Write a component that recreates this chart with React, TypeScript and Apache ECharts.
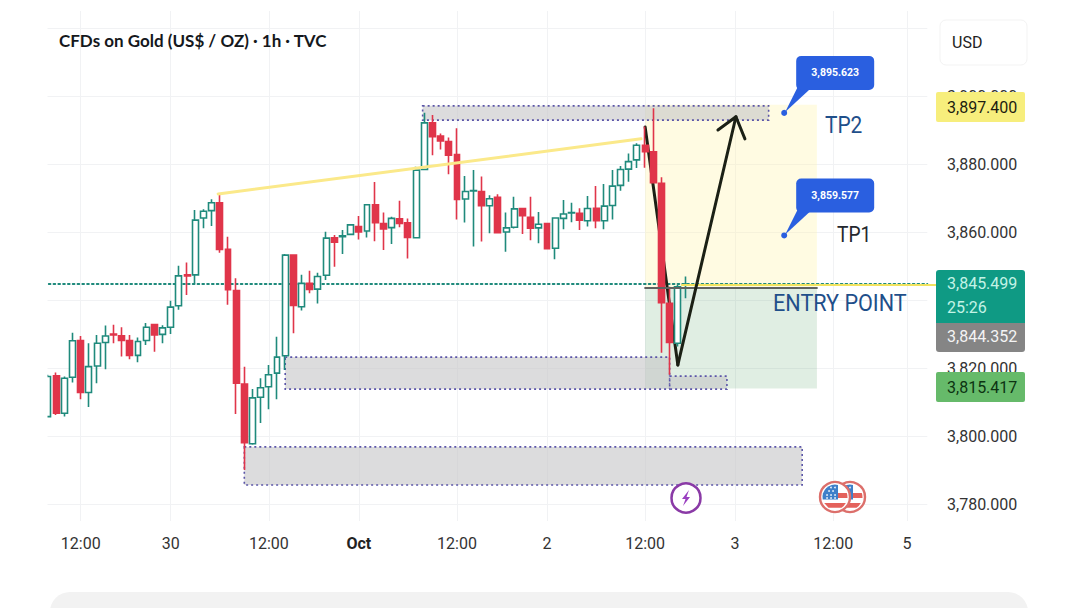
import React, { useEffect, useRef } from "react";
import * as echarts from "echarts";

const opens = [3805.7,3817.7,3806.7,3817.3,3828.1,3812.8,3820.6,3827.5,3830,3829.5,3828.1,3823.7,3828.1,3832.8,3829.9,3832,3838.3,3847.4,3847.4,3864.1,3866.3,3868.6,3854.9,3842.8,3815.3,3797.7,3811.4,3814.5,3818.5,3823.6,3853.2,3838,3844.9,3843.2,3847.3,3858.3,3858.6,3859.3,3861.6,3860.3,3868,3862.5,3861.3,3863.9,3862.7,3858.3,3878.4,3892.1,3888.2,3886.6,3882.8,3869.7,3872.1,3871.9,3867.7,3870.2,3860,3861.4,3866.9,3864.3,3861.2,3862.5,3855.2,3864,3865.6,3865.5,3863.3,3867,3863.3,3867.8,3873.7,3878.5,3881.2,3885.5,3883.6,3874.3,3839,3827.3,3844.5];
const closes = [3817.5,3806.7,3817,3828,3812.8,3820.4,3827.3,3829.4,3829.7,3828.1,3823.7,3827.8,3832,3829.7,3831.8,3837.9,3847.1,3847.1,3863.5,3866.1,3868.6,3854.9,3843,3815.5,3798,3811.2,3814.2,3818,3823.2,3853.2,3838.4,3844.9,3843.1,3846.9,3858.2,3857,3858.9,3862.1,3860,3868,3862.7,3860.9,3864,3862.5,3858.4,3878.2,3892.1,3888,3886.8,3882.6,3869.6,3871.9,3872.2,3867.7,3869.8,3859.8,3861.2,3866.8,3864.8,3861.1,3862.3,3855.1,3864.1,3865.3,3865.7,3863.5,3866.9,3863.3,3867.6,3873.5,3878.4,3880.7,3885.5,3883.6,3874.5,3839.2,3827.5,3843.9,3844.6];
const lows = [3805.5,3806.2,3805.7,3815.7,3810.8,3808.5,3815.5,3819.6,3827.3,3823.4,3822.6,3821.7,3826.8,3824.8,3827.3,3830,3837.1,3841.5,3844.6,3861.1,3861.8,3853.9,3838.6,3806.5,3790,3797.4,3803.8,3807.9,3810.8,3819.4,3830.2,3836.9,3842,3839,3845.9,3849.8,3853.5,3859.3,3857.8,3858.4,3857.3,3854.7,3856.5,3861.4,3852.2,3858.3,3878.4,3882.6,3884.3,3877,3863.7,3862.8,3855.7,3857.2,3859.6,3859.8,3854.2,3861,3859.4,3857.6,3856.7,3855.1,3852,3860.8,3862.9,3860.6,3861.6,3861.1,3860.8,3863.7,3872.1,3874.8,3878.8,3878.9,3874.3,3824.5,3818,3826.3,3840.5];
const highs = [3818,3818.7,3817.5,3830.4,3829.4,3827.3,3829.7,3832.5,3832.7,3832,3829.7,3829,3833.2,3832.8,3832.6,3839.8,3850.1,3851,3866.5,3866.7,3869.6,3871.2,3858.6,3846.4,3820.4,3813.8,3817,3820.9,3829.2,3853.5,3853.2,3847.4,3848.6,3848,3860.1,3859.1,3860.6,3862.1,3864.7,3868.2,3874.7,3865.7,3864.5,3869.2,3864,3879.2,3895.1,3894.4,3889,3887.8,3890.5,3876.5,3878.2,3876.3,3870.8,3871.1,3865.7,3870.4,3866.9,3870.4,3865.9,3862.5,3864.1,3869.4,3868.6,3867,3870.6,3873.5,3874.1,3878.2,3879.4,3883.1,3886.1,3891,3896.4,3876.1,3843.9,3844.4,3846.9];

const slotCount = 108;
const timeTicks: Record<number, string> = { 4: "12:00", 15: "30", 27: "12:00", 38: "Oct", 50: "12:00", 61: "2", 73: "12:00", 84: "3", 96: "12:00", 105: "5" };
const priceTicks = [3780, 3800, 3820, 3860, 3880, 3900];
const priceGrid = [3780, 3800, 3820, 3840, 3860, 3880, 3900, 3920];

// [from slot, to slot, upper price, lower price]
const rewardZone = [[73, 94, 3897.4, 3843.5]];
const riskZone = [[73, 94, 3843.5, 3814]];
const supplyBoxes = [
  [45.8, 88.1, 3897.1, 3892.9],
  [29, 76, 3823.2, 3813.8],
  [76, 83, 3817.6, 3813.8],
  [24, 92.2, 3796.8, 3785.6],
];
const trendLine = [[20.8, 3871.2], [72.5, 3887.4]];
const arrowDown = [[73, 3890.9], [77, 3820.9]];
const arrowUp = [[77, 3820.9], [84.1, 3893.9]];
const arrowHead = [[81.9, 3890], [84.1, 3893.9], [85.2, 3887.4]];
const lastPriceLine = [[-0.5, 3844.7], [107.5, 3844.7]];
const entryYellow = [[77.5, 3844.4], [107.5, 3844.4]];
const entryGrey = [[73, 3843.5], [94, 3843.5]];
const callouts = [[90, 3895.623], [90, 3859.577]];
const cantonDots = [[-8, -2], [-4, -2], [0, -2], [-6, -6], [-2, -6], [-4, -9.5], [0, -9.5], [-8, 1], [-4, 1], [0, 1]];

const FONT = "Roboto";
const rectSeries = (data: number[][], fill: string, z: number, dotted: boolean) => ({
  type: "custom", xAxisIndex: 1, yAxisIndex: 0, z, silent: true, clip: false,
  encode: { x: [0, 1], y: [2, 3] },
  data,
  renderItem: (_: any, api: any) => {
    const a = api.coord([api.value(0), api.value(2)]);
    const b = api.coord([api.value(1), api.value(3)]);
    return {
      type: "rect",
      shape: { x: a[0], y: a[1], width: b[0] - a[0], height: b[1] - a[1] },
      style: dotted
        ? { fill, stroke: "#5b55a8", lineWidth: 1.6, lineDash: [2, 3] }
        : { fill },
    };
  },
});
const lineSeries = (data: number[][], color: string, width: number, z: number, type: any = "solid") => ({
  type: "line", xAxisIndex: 1, yAxisIndex: 0, z, silent: true, showSymbol: false,
  data, lineStyle: { color, width, type, cap: "round", join: "round" },
});

function flag(cx: number, cy: number, z: number) {
  return {
    type: "group", x: cx, y: cy, z, silent: true,
    children: [
      { type: "circle", z, shape: { cx: 0, cy: 0, r: 15 }, style: { fill: "#fff", stroke: "#dc6f6b", lineWidth: 2.4 } },
      { type: "flagCanton", z: z + 1, style: { fill: "#3f7fc9" } },
      { type: "flagBandA", z: z + 1, style: { fill: "#e4625c" } },
      { type: "flagBandB", z: z + 1, style: { fill: "#e4625c" } },
      ...cantonDots.map(([x, y]) => ({
        type: "circle", z: z + 2, shape: { cx: x, cy: y, r: 0.9 }, style: { fill: "#eaf2fb" },
      })),
    ],
  };
}

const tagText = (x: number, y: number, text: string, fill: string, z = 102) => ({
  type: "text", x, y, z, silent: true,
  style: { text, fill, font: `16px ${FONT}`, textVerticalAlign: "middle", textAlign: "left" },
});
const tagBox = (y: number, height: number, fill: string, r: any = 2) => ({
  type: "rect", z: 101, silent: true,
  shape: { x: 936, y, width: 89, height, r }, style: { fill },
});
const note = (x: number, y: number, text: string, fill: string, size: number, scaleX: number) => ({
  type: "text", z: 60, x, y, scaleX, silent: true,
  style: { text, fill, font: `${size}px ${FONT}`, textVerticalAlign: "middle" },
});

export default function App() {
  const ref = useRef<HTMLDivElement>(null);
  useEffect(() => {
    const g: any = echarts.graphic;
    g.registerShape("flagCanton", g.extendPath("M3,-12.1 A12.5 12.5 0 0 0 -12.3,2.5 L3,2.5 Z", {}));
    g.registerShape("flagBandA", g.extendPath("M3,-4 L11.8,-4 A12.5 12.5 0 0 1 12.5,1 L3,1 Z", {}));
    g.registerShape("flagBandB", g.extendPath("M-10.8,6 L10.8,6 A12.5 12.5 0 0 1 6.5,10.7 L-6.5,10.7 Z", {}));
    g.registerShape("bolt", g.extendPath("M3,-8 L-4,1 L-0.5,1 L-3,8 L4,-1 L0.5,-1 Z", {}));

    const chart = echarts.init(ref.current!, undefined, { renderer: "svg" });
    const hair = { color: "#f1f2f4", width: 1 };
    chart.setOption({
      animation: false,
      backgroundColor: "#ffffff",
      title: {
        text: "CFDs on Gold (US$ / OZ) · 1h · TVC", left: 54, top: 27,
        textStyle: { fontFamily: "Lato", fontWeight: 700, fontSize: 17, color: "#15181c" },
      },
      grid: { left: 43.9, right: 1080 - 927.34, top: 11, bottom: 608 - 521 },
      xAxis: [
        {
          type: "category", boundaryGap: true,
          data: Array.from({ length: slotCount }, (_, i) => String(i)),
          axisLine: { show: false }, axisTick: { show: false },
          axisLabel: {
            margin: 14, interval: (i: number) => i in timeTicks, hideOverlap: false,
            fontFamily: FONT, fontSize: 16, color: "#333",
            formatter: (_: string, i: number) => {
              const t = timeTicks[i] ?? "";
              return t === "Oct" ? "{b|Oct}" : t;
            },
            rich: { b: { fontFamily: FONT, fontSize: 16, fontWeight: 700, color: "#222" } },
          },
          splitLine: { show: true, alignWithLabel: true, interval: (i: number) => i in timeTicks, lineStyle: hair },
        },
        { type: "value", min: -0.5, max: slotCount - 0.5, show: false, splitLine: { show: false } },
      ],
      yAxis: {
        type: "value", position: "right", min: 3775, max: 3925,
        axisLine: { show: false },
        axisTick: { show: false, customValues: priceGrid },
        axisLabel: {
          customValues: priceTicks, margin: 19.66, fontFamily: FONT, fontSize: 16, color: "#333",
          formatter: (v: number) => v.toLocaleString("en-US", { minimumFractionDigits: 3 }),
        },
        splitLine: { show: true, lineStyle: hair },
      },
      series: [
        rectSeries(rewardZone, "rgba(255,243,170,0.34)", 1, false),
        rectSeries(riskZone, "rgba(100,170,115,0.2)", 1, false),
        lineSeries(lastPriceLine, "#1f8a7c", 1.8, 1, [1.8, 3]),
        rectSeries(supplyBoxes, "rgba(198,198,200,0.62)", 1.5, true),
        lineSeries(arrowDown, "#1b2015", 3, 1.8),
        {
          type: "candlestick", xAxisIndex: 0, yAxisIndex: 0, z: 2, barWidth: 6.4,
          data: opens.map((o, i) => [o, closes[i], lows[i], highs[i]]),
          itemStyle: { color: "#ffffff", color0: "#e0354a", borderColor: "#1f8a7c", borderColor0: "#e0354a", borderWidth: 1.6 },
        },
        lineSeries(entryGrey, "#5f6260", 2, 3),
        lineSeries(entryYellow, "#f2e35f", 2, 3),
        lineSeries(trendLine, "#fbe98a", 3, 3),
        lineSeries(arrowUp, "#1b2015", 3, 4),
        lineSeries(arrowHead, "#1b2015", 3, 4),
        {
          type: "custom", xAxisIndex: 1, yAxisIndex: 0, z: 5, silent: true, clip: false,
          encode: { x: 0, y: 1 },
          data: callouts,
          renderItem: (_: any, api: any) => {
            const [x, y0] = api.coord([api.value(0), api.value(1)]);
            const y = y0 + 2;
            return {
              type: "group",
              children: [
                { type: "circle", shape: { cx: x, cy: y, r: 3 }, style: { fill: "#2a5fe0" } },
                { type: "polygon", shape: { points: [[x + 1, y - 1], [x + 14, y - 27], [x + 27, y - 25]] }, style: { fill: "#2a5fe0" } },
                { type: "rect", shape: { x: x + 12, y: y - 57, width: 78, height: 34, r: 5 }, style: { fill: "#2a5fe0" } },
                {
                  type: "text", x: x + 51, y: y - 40,
                  style: {
                    text: api.value(1).toLocaleString("en-US", { minimumFractionDigits: 3 }),
                    fill: "#fff", font: `bold 10.5px ${FONT}`, textAlign: "center", textVerticalAlign: "middle",
                  },
                },
              ],
            };
          },
        },
      ],
      graphic: [
        { type: "rect", z: 50, silent: true, shape: { x: 0, y: 0, width: 47.5, height: 560 }, style: { fill: "#fff" } },
        { type: "line", z: 50, silent: true, shape: { x1: 927, y1: 285, x2: 936, y2: 285 }, style: { stroke: "#f2e35f", lineWidth: 2 } },
        note(825, 124, "TP2", "#1f4f8a", 24, 0.87),
        note(837, 235, "TP1", "#23272e", 22, 0.87),
        note(773, 303, "ENTRY POINT", "#1f4f8a", 24, 0.9),
        { type: "rect", z: 60, silent: true, shape: { x: 940, y: 20, width: 87, height: 45, r: 6 }, style: { fill: "#fff", stroke: "#f3f3f3", lineWidth: 1 } },
        { type: "text", z: 61, x: 952, y: 42, silent: true, style: { text: "USD", fill: "#222", font: `16px ${FONT}`, textVerticalAlign: "middle" } },
        tagBox(92, 30, "#f7ee7c"),
        tagText(947, 107, "3,897.400", "#1c1c10"),
        tagBox(270, 53, "#0f9a84", [3, 3, 0, 0]),
        tagText(947, 283, "3,845.499", "#c3f3e6"),
        tagText(947, 307, "25:26", "#c3f3e6"),
        tagBox(323, 29, "#858585", [0, 0, 3, 3]),
        tagText(947, 336, "3,844.352", "#f4f4f4"),
        tagBox(372, 30, "#66ba6a"),
        tagText(947, 387, "3,815.417", "#0c3312"),
        { type: "circle", z: 40, silent: true, shape: { cx: 686, cy: 498, r: 14.5 }, style: { fill: "#fff", stroke: "#8a3aa6", lineWidth: 2.5 } },
        { type: "bolt", z: 41, x: 686, y: 498, silent: true, style: { fill: "#9a3fc0" } },
        flag(850, 497, 40),
        flag(835, 497, 44),
        { type: "rect", z: 70, silent: true, shape: { x: 50, y: 592, width: 978, height: 40, r: 20 }, style: { fill: "#f2f2f2" } },
      ],
    });
    return () => chart.dispose();
  }, []);
  return <div ref={ref} style={{ position: "absolute", left: 0, top: 0, width: 1080, height: 608 }} />;
}
